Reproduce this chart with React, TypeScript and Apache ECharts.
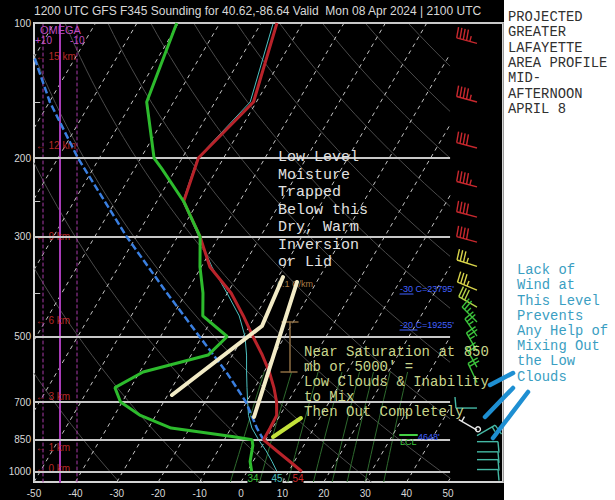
import React, { useEffect, useRef } from "react";
import * as echarts from "echarts";

// ---------------- data ----------------
const titleText =
  "1200 UTC GFS F345 Sounding for 40.62,-86.64 Valid  Mon 08 Apr 2024 | 2100 UTC";

const isobarLabels = [100, 200, 300, 500, 700, 850, 1000];
const minorPressureTicks = [150, 250, 400];

const tempPressures = [100, 150, 200, 250, 300, 350, 400, 450, 500, 550, 600, 650, 700, 750, 800, 850, 900, 950, 1000];
const temperatures = [-56.2, -50.7, -56.1, -53.5, -44.5, -37.9, -29.1, -22.9, -17.7, -12.8, -8.7, -5.4, -2.7, -0.8, -0.6, -0.5, 4.3, 8.9, 13.2];

const dewPressures = [100, 150, 200, 211, 250, 300, 350, 400, 450, 500, 550, 600, 650, 700, 750, 800, 837, 850, 875, 950, 1000];
const dewpoints = [-80.4, -76.5, -66.8, -63.5, -53.5, -44.5, -40.3, -35.9, -32.7, -23.9, -25.9, -39.2, -43.8, -40.4, -33.7, -24.5, -8.1, -3.3, -2.3, -0.7, 1.1];

const wetBulbPressures = [100, 150, 200, 250, 300, 350, 400, 450, 500, 550, 600, 650, 700, 750, 800, 850, 900, 950, 1000];
const wetBulbs = [-57.1, -51.5, -56.3, -53.7, -44.8, -37.4, -30.1, -23.9, -19.6, -16.6, -14.2, -11.9, -9.7, -7.6, -5.0, -1.7, 1.7, 4.6, 7.2];

const parcelPressures = [120, 150, 200, 300, 400, 500, 600, 700, 800, 850];
const parcelTemps = [-109.7, -99.9, -85.2, -62.2, -44.6, -30.6, -19.1, -10.1, -3.8, -0.5];

const heightLabels = ["15 km", "12 km", "9 km", "6 km", "3 km", "1 km", "0 km"];
const heightPressures = [119, 188, 300, 461, 682, 882, 984];

const barbPressures = [111, 150, 190, 232, 271, 308, 349, 394, 430, 464, 499, 539, 585, 633, 722, 809, 832, 858, 904, 941, 990];
const barbDirections = [285, 285, 285, 285, 285, 285, 288, 292, 300, 315, 325, 330, 330, 335, 270, 300, 60, 90, 90, 90, 90];
const barbSpeeds = [45, 45, 40, 45, 40, 40, 35, 35, 30, 25, 25, 25, 20, 20, 10, 5, 15, 10, 10, 10, 10];

const surfaceLabels = ["34", "45", "54"];

const sideTitleLines = ["PROJECTED", "GREATER", "LAFAYETTE", "AREA PROFILE", "MID-", "AFTERNOON", "APRIL 8"];
const inversionNote = ["Low Level", "Moisture", "Trapped", "Below this", "Dry, Warm", "Inversion", "or Lid"];
const saturationNote = ["Near Saturation at 850", "mb or 5000' =", "Low Clouds & Inability", "to Mix", "Then Out Completely"];
const windNote = ["Lack of", "Wind at", "This Level", "Prevents", "Any Help of", "Mixing Out", "the Low", "Clouds"];

// ---------------- skew-T geometry ----------------
const SKEW = 63.4; // degC per decade of pressure
const P_BOT = 1055.4;
const P_TOP = 100;
const X_MIN = -50;
const X_MAX = 63.285;
const X_CLIP = 50.5;
const BARB_X = 57;

const skewX = (t: number, p: number) => t + SKEW * Math.log10(P_BOT / p);
const toSeries = (ps: number[], ts: number[]) => ps.map((p, i) => [skewX(ts[i], p), p]);

function clipLine(pts: number[][], xmin: number, xmax: number): number[][][] {
  const out: number[][][] = [];
  let cur: number[][] = [];
  for (let i = 0; i < pts.length - 1; i++) {
    const [x0, p0] = pts[i];
    const [x1, p1] = pts[i + 1];
    const dx = x1 - x0;
    let t0 = 0;
    let t1 = 1;
    if (dx === 0) {
      if (x0 < xmin || x0 > xmax) { t0 = 1; t1 = 0; }
    } else {
      let ta = (xmin - x0) / dx;
      let tb = (xmax - x0) / dx;
      if (ta > tb) { const s = ta; ta = tb; tb = s; }
      t0 = Math.max(0, ta);
      t1 = Math.min(1, tb);
    }
    if (t0 >= t1) {
      if (cur.length > 1) out.push(cur);
      cur = [];
      continue;
    }
    const l0 = Math.log10(p0);
    const l1 = Math.log10(p1);
    const at = (t: number) => [x0 + dx * t, Math.pow(10, l0 + (l1 - l0) * t)];
    if (!cur.length) cur.push(at(t0));
    cur.push(at(t1));
    if (t1 < 1) { out.push(cur); cur = []; }
  }
  if (cur.length > 1) out.push(cur);
  return out;
}

function logSamples(pa: number, pb: number, n: number) {
  const a = Math.log10(pa);
  const b = Math.log10(pb);
  const r: number[] = [];
  for (let i = 0; i <= n; i++) r.push(Math.pow(10, a + ((b - a) * i) / n));
  return r;
}

function isothermLines() {
  const segs: any[] = [];
  for (let t = -130; t <= 50; t += 10) {
    const pts = [[skewX(t, P_BOT), P_BOT], [skewX(t, P_TOP), P_TOP]];
    clipLine(pts, X_MIN, X_CLIP).forEach((c) => segs.push({ coords: c }));
  }
  return segs;
}

function dryAdiabatLines() {
  const segs: any[] = [];
  const ps = logSamples(P_TOP, P_BOT, 40);
  for (let th = 240; th <= 500; th += 20) {
    const pts = ps.map((p) => [skewX(th * Math.pow(p / 1000, 0.2857) - 273.15, p), p]);
    clipLine(pts, X_MIN, X_CLIP).forEach((c) => segs.push({ coords: c }));
  }
  return segs;
}

function mixingRatioLines() {
  const segs: any[] = [];
  const ps = logSamples(600, P_BOT, 12);
  [3, 5, 8, 12, 16, 20, 26, 34].forEach((w) => {
    const pts = ps.map((p) => {
      const e = (w * p) / (622 + w);
      const l = Math.log(e / 6.112);
      const td = (243.5 * l) / (17.67 - l);
      return [skewX(td, p), p];
    });
    clipLine(pts, X_MIN, X_CLIP).forEach((c) => segs.push({ coords: c }));
  });
  return segs;
}

function barbColor(s: number) {
  if (s >= 40) return "#c8282e";
  if (s >= 35) return "#d8d44a";
  if (s >= 30) return "#b4d448";
  if (s >= 20) return "#3cc43c";
  if (s >= 10) return "#44b8a4";
  return "#e8e8e8";
}

const MONO = '"Liberation Mono", "Courier New", monospace';
const SANS = '"Liberation Sans", Arial, sans-serif';

function textBlock(lines: string[], x: number, y: number, size: number, lh: number, fill: string, family = MONO) {
  return {
    type: "text",
    x,
    y,
    z: 120,
    style: { text: lines.join("\n"), fill, fontSize: size, fontFamily: family, lineHeight: lh, verticalAlign: "top", align: "left" },
  };
}

function seg(x1: number, y1: number, x2: number, y2: number, stroke: string, lineWidth: number, z = 110, dash?: number[]) {
  return {
    type: "line",
    z,
    shape: { x1, y1, x2, y2 },
    style: { stroke, lineWidth, lineCap: "round", lineDash: dash },
  };
}

export default function App() {
  const ref = useRef<HTMLDivElement>(null);

  useEffect(() => {
    if (!ref.current) return;
    const chart = echarts.init(ref.current, undefined, { renderer: "svg" });

    const isobarData: any[] = isobarLabels.map((p) => [
      { coord: [X_MIN, p], name: String(p) },
      { coord: [p === 100 ? X_MAX : X_CLIP, p] },
    ]);
    minorPressureTicks.forEach((p) =>
      isobarData.push([
        { coord: [X_MIN, p], name: "", label: { show: false }, lineStyle: { width: 1 } },
        { coord: [X_MIN + 1.5, p] },
      ])
    );

    const option: any = {
      animation: false,
      backgroundColor: "#000",
      grid: { left: 34, top: 23, width: 469, height: 459, show: true, borderColor: "#d4d4d4", borderWidth: 2 },
      xAxis: {
        type: "value",
        min: X_MIN,
        max: X_MAX,
        interval: 10,
        axisLine: { show: false },
        axisTick: { show: false },
        splitLine: { show: false },
        axisLabel: {
          color: "#d8d8d8",
          fontSize: 10,
          fontFamily: SANS,
          margin: 6,
          formatter: (v: number) => (v > 50 ? "" : String(v)),
        },
      },
      yAxis: {
        type: "log",
        logBase: 10,
        min: P_TOP,
        max: P_BOT,
        inverse: true,
        axisLine: { show: false },
        axisTick: { show: false },
        axisLabel: { show: false },
        splitLine: { show: false },
      },
      series: [
        {
          type: "lines",
          coordinateSystem: "cartesian2d",
          polyline: true,
          clip: true,
          silent: true,
          z: 1,
          lineStyle: { color: "#4a4a4a", width: 1, opacity: 1 },
          data: dryAdiabatLines(),
        },
        {
          type: "lines",
          coordinateSystem: "cartesian2d",
          polyline: true,
          clip: true,
          silent: true,
          z: 1,
          lineStyle: { color: "#2e6a2e", width: 1, opacity: 1 },
          data: mixingRatioLines(),
        },
        {
          type: "lines",
          coordinateSystem: "cartesian2d",
          polyline: true,
          clip: true,
          silent: true,
          z: 1,
          lineStyle: { color: "#c4c4c4", width: 1, type: [4, 4], opacity: 1 },
          data: isothermLines(),
        },
        {
          type: "line",
          data: [],
          silent: true,
          z: 2,
          markLine: {
            silent: true,
            symbol: "none",
            animation: false,
            lineStyle: { color: "#c8c8c8", width: 2, type: "solid" },
            label: { show: true, position: "start", formatter: "{b}", color: "#d8d8d8", fontSize: 10, fontFamily: SANS, distance: 3 },
            data: isobarData,
          },
        },
        {
          type: "scatter",
          z: 3,
          symbolSize: 1,
          itemStyle: { color: "rgba(0,0,0,0)" },
          label: { show: true, position: "right", distance: 0, formatter: "← {b}", color: "#e23434", fontSize: 10, fontFamily: SANS },
          data: heightPressures.map((p, i) => ({ value: [X_MIN + 0.3, p], name: heightLabels[i] })),
        },
        {
          name: "Wet bulb",
          type: "line",
          z: 4,
          symbol: "none",
          lineStyle: { color: "#4cc0c0", width: 1 },
          data: toSeries(wetBulbPressures, wetBulbs),
        },
        {
          name: "Parcel",
          type: "line",
          z: 5,
          symbol: "none",
          lineStyle: { color: "#3a7fe0", width: 2.5, type: [7, 3] },
          data: toSeries(parcelPressures, parcelTemps),
        },
        {
          name: "Temperature",
          type: "line",
          z: 6,
          symbol: "none",
          lineStyle: { color: "#b8232a", width: 3 },
          data: toSeries(tempPressures, temperatures),
        },
        {
          name: "Dewpoint",
          type: "line",
          z: 7,
          symbol: "none",
          lineStyle: { color: "#2dbb2d", width: 3 },
          data: toSeries(dewPressures, dewpoints),
        },
        {
          name: "Wind",
          type: "custom",
          z: 8,
          clip: false,
          data: barbPressures.map((p, i) => [BARB_X, p, barbDirections[i], barbSpeeds[i]]),
          encode: { x: 0, y: 1 },
          renderItem: (_params: any, api: any) => {
            const p = api.value(1);
            const dir = api.value(2);
            const spd = api.value(3);
            const c = api.coord([api.value(0), p]);
            const rad = (dir * Math.PI) / 180;
            const dx = Math.sin(rad);
            const dy = -Math.cos(rad);
            const px = -dy;
            const py = dx;
            const L = 21;
            const B = 11;
            const step = 3.4;
            const color = barbColor(spd);
            const style = { stroke: color, lineWidth: 1.4, fill: "none" };
            const ex = c[0] + dx * L;
            const ey = c[1] + dy * L;
            const children: any[] = [{ type: "line", shape: { x1: c[0], y1: c[1], x2: ex, y2: ey }, style }];
            let rem = Math.round(spd / 5) * 5;
            let pos = 0;
            while (rem >= 10) {
              const bx = ex - dx * pos;
              const by = ey - dy * pos;
              children.push({ type: "line", shape: { x1: bx, y1: by, x2: bx + px * B + dx * 1, y2: by + py * B + dy * 1 }, style });
              pos += step;
              rem -= 10;
            }
            if (rem >= 5) {
              if (pos === 0) pos = step;
              const bx = ex - dx * pos;
              const by = ey - dy * pos;
              children.push({ type: "line", shape: { x1: bx, y1: by, x2: bx + px * B * 0.5, y2: by + py * B * 0.5 }, style });
            }
            if (spd < 8) children.push({ type: "circle", shape: { cx: c[0] + 1, cy: c[1] - 1, r: 2.5 }, style });
            return { type: "group", children };
          },
        },
      ],
      graphic: [
        // omega scale
        seg(43, 23, 43, 482, "#a83aa8", 1, 2, [3, 3]),
        seg(60, 23, 60, 482, "#a83cb8", 2, 2),
        seg(77, 23, 77, 482, "#a83aa8", 1, 2, [3, 3]),
        { type: "text", x: 40, y: 24, z: 20, style: { text: "OMEGA", fill: "#c04cc0", fontSize: 11, fontFamily: SANS, verticalAlign: "top" } },
        { type: "text", x: 35, y: 35, z: 20, style: { text: "+10", fill: "#c04cc0", fontSize: 10, fontFamily: SANS, verticalAlign: "top" } },
        { type: "text", x: 70, y: 35, z: 20, style: { text: "-10", fill: "#c04cc0", fontSize: 10, fontFamily: SANS, verticalAlign: "top" } },
        // title
        { type: "text", x: 34, y: 5, z: 120, style: { text: titleText, fill: "#d8d8d8", fontSize: 12, fontFamily: SANS, verticalAlign: "top" } },
        // white side panel
        { type: "rect", z: 60, shape: { x: 504, y: 0, width: 111, height: 500 }, style: { fill: "#ffffff" } },
        seg(503.5, 23, 503.5, 482, "#9a9a9a", 1, 61),
        textBlock(sideTitleLines, 508, 10, 13.8, 15.3, "#303030"),
        textBlock(windNote, 517, 263, 13.8, 15.2, "#3a9ec2"),
        textBlock(inversionNote, 278, 149, 15, 17.5, "#e2e2e2"),
        textBlock(saturationNote, 304, 344, 14, 15, "#c9d68c"),
        // lapse-rate bracket
        { type: "text", x: 277, y: 279, z: 100, style: { text: "6.1 C/km", fill: "#a87c46", fontSize: 9, fontFamily: SANS, verticalAlign: "top" } },
        seg(282, 322, 298, 322, "#8c6c42", 1.5, 100),
        seg(290, 322, 290, 372, "#8c6c42", 1.5, 100),
        seg(281, 372, 297, 372, "#8c6c42", 1.5, 100),
        // level labels
        { type: "text", x: 400, y: 284, z: 100, style: { text: "-30 C=23795'", fill: "#4060ff", fontSize: 9, fontFamily: SANS, verticalAlign: "top" } },
        seg(400, 294, 413, 294, "#4060ff", 1.2, 100),
        { type: "text", x: 400, y: 320, z: 100, style: { text: "-20 C=19255'", fill: "#4060ff", fontSize: 9, fontFamily: SANS, verticalAlign: "top" } },
        seg(400, 330, 417, 330, "#4060ff", 1.2, 100),
        seg(400, 435, 417, 435, "#44d044", 2, 100),
        { type: "text", x: 400, y: 437, z: 100, style: { text: "LCL", fill: "#3cc83c", fontSize: 9, fontFamily: SANS, verticalAlign: "top" } },
        { type: "text", x: 418, y: 432, z: 100, style: { text: "4648'", fill: "#4060ff", fontSize: 9, fontFamily: SANS, verticalAlign: "top" } },
        // surface labels
        { type: "text", x: 253, y: 478, z: 100, style: { text: surfaceLabels[0], fill: "#3cc43c", fontSize: 10, fontFamily: SANS, align: "center", verticalAlign: "middle", backgroundColor: "#000" } },
        { type: "text", x: 277, y: 478, z: 100, style: { text: surfaceLabels[1], fill: "#4cc0c0", fontSize: 10, fontFamily: SANS, align: "center", verticalAlign: "middle", backgroundColor: "#000" } },
        { type: "text", x: 298, y: 478, z: 100, style: { text: surfaceLabels[2], fill: "#d02828", fontSize: 10, fontFamily: SANS, align: "center", verticalAlign: "middle", backgroundColor: "#000" } },
        // hand-drawn annotation strokes
        { type: "polyline", z: 110, shape: { points: [[172, 395], [262, 326], [283, 277]] }, style: { stroke: "#f2ebc6", lineWidth: 4, fill: null, lineCap: "round", lineJoin: "round" } },
        seg(297, 282, 254, 417, "#f2ebc6", 4),
        seg(273, 437, 301, 418, "#c4e23a", 4),
        seg(490, 385, 513, 373, "#1e8fd2", 4.5, 130),
        seg(485, 417, 513, 388, "#1e8fd2", 4.5, 130),
        seg(493, 438, 528, 392, "#1e8fd2", 4.5, 130),
      ],
    };

    chart.setOption(option);
    return () => chart.dispose();
  }, []);

  return <div ref={ref} style={{ position: "fixed", left: 0, top: 0, width: 615, height: 500 }} />;
}
